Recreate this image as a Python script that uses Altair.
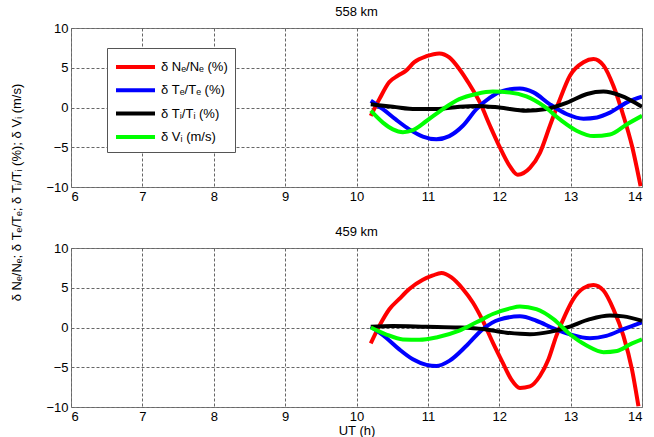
import altair as alt
import pandas as pd

FONT = "Liberation Sans"
SERIES = ["δ Nₑ/Nₑ (%)", "δ Tₑ/Tₑ (%)", "δ Tᵢ/Tᵢ (%)", "δ Vᵢ (m/s)"]
COLORS = ["#ff0000", "#0000ff", "#000000", "#00ff00"]
PANELS = ["558 km", "459 km"]

# ---- 558 km ----
top_ne_ut = [10.2, 10.32, 10.46, 10.58, 10.69, 10.81, 10.98, 11.16, 11.30, 11.44, 11.58, 11.73, 11.87, 12.0,
             12.15, 12.26, 12.43, 12.57, 12.71, 12.85, 12.99, 13.18, 13.32, 13.46, 13.60, 13.74, 13.86, 13.98]
top_ne_val = [-1.05, 1.05, 3.2, 4.0, 4.6, 5.7, 6.45, 6.8, 6.3, 4.85, 2.95, 0.6, -2.3, -4.85,
              -7.4, -8.45, -7.6, -5.7, -2.3, 1.05, 4.0, 5.7, 6.1, 5.3, 2.7, -1.05, -4.85, -9.9]
top_te_ut = [10.2, 10.37, 10.55, 10.74, 10.93, 11.12, 11.30, 11.49, 11.68, 11.87, 12.05, 12.29, 12.48, 12.71,
             12.95, 13.18, 13.37, 13.55, 13.79, 14.0]
top_te_val = [0.85, -0.2, -1.5, -2.75, -3.65, -4.0, -3.6, -2.3, -0.2, 1.25, 2.1, 2.4, 1.9, 0.4,
              -0.85, -1.4, -1.25, -0.65, 0.65, 1.35]
top_ti_ut = [10.2, 10.51, 10.83, 11.12, 11.44, 11.68, 12.0, 12.38, 12.66, 12.95, 13.23, 13.46, 13.70, 14.0]
top_ti_val = [0.4, 0.1, -0.2, -0.2, 0.1, 0.2, 0.0, -0.4, -0.2, 0.6, 1.7, 2.0, 1.5, 0.1]
top_vi_ut = [10.2, 10.37, 10.51, 10.65, 10.79, 10.98, 11.21, 11.44, 11.68, 11.91, 12.15, 12.38, 12.62, 12.85,
             13.09, 13.32, 13.55, 13.79, 14.0]
top_vi_val = [-0.4, -1.9, -2.75, -3.1, -2.85, -1.7, -0.2, 1.05, 1.7, 2.0, 1.9, 1.4, 0.2, -1.5,
              -2.95, -3.6, -3.4, -2.1, -1.05]

# ---- 459 km ----
bot_ne_ut = [10.2, 10.32, 10.46, 10.6, 10.74, 10.93, 11.07, 11.19, 11.33, 11.49, 11.63, 11.77, 11.91, 12.05,
             12.17, 12.29, 12.43, 12.57, 12.69, 12.80, 12.92, 13.04, 13.18, 13.32, 13.46, 13.60, 13.74, 13.86, 13.95]
bot_ne_val = [-2.0, 0.2, 2.3, 3.6, 4.85, 6.0, 6.55, 6.85, 6.3, 4.85, 3.15, 0.85, -1.9, -4.45,
              -6.55, -7.6, -7.4, -6.1, -4.0, -1.05, 1.5, 3.6, 4.95, 5.35, 4.65, 2.3, -1.05, -5.3, -9.9]
bot_te_ut = [10.2, 10.41, 10.6, 10.79, 10.98, 11.12, 11.30, 11.54, 11.77, 12.0, 12.29, 12.52, 12.76, 12.99,
             13.27, 13.5, 13.74, 14.0]
bot_te_val = [0.1, -1.25, -2.75, -4.0, -4.7, -4.85, -4.2, -2.3, -0.2, 1.0, 1.4, 0.85, -0.1, -0.85,
              -1.35, -1.05, -0.2, 0.65]
bot_ti_ut = [10.2, 10.51, 10.98, 11.44, 11.77, 12.1, 12.43, 12.71, 12.95, 13.27, 13.55, 13.74, 14.0]
bot_ti_val = [0.1, 0.2, 0.1, 0.0, -0.2, -0.65, -0.85, -0.55, 0.0, 1.05, 1.5, 1.4, 0.85]
bot_vi_ut = [10.2, 10.41, 10.65, 10.88, 11.12, 11.44, 11.68, 11.91, 12.15, 12.29, 12.52, 12.76, 12.99, 13.23,
             13.46, 13.65, 13.84, 14.0]
bot_vi_val = [0.0, -0.85, -1.5, -1.55, -1.25, -0.4, 0.65, 1.7, 2.4, 2.65, 2.3, 1.05, -0.85, -2.3,
              -3.1, -2.95, -2.1, -1.5]

x_ticks = [6, 7, 8, 9, 10, 11, 12, 13, 14]
y_ticks = [-10, -5, 0, 5, 10]

rows = []
def add(panel, si, uts, vals):
    for u, v in zip(uts, vals):
        rows.append({"panel": panel, "series": SERIES[si], "ut": u, "val": v})

add(PANELS[0], 0, top_ne_ut, top_ne_val)
add(PANELS[0], 1, top_te_ut, top_te_val)
add(PANELS[0], 2, top_ti_ut, top_ti_val)
add(PANELS[0], 3, top_vi_ut, top_vi_val)
add(PANELS[1], 0, bot_ne_ut, bot_ne_val)
add(PANELS[1], 1, bot_te_ut, bot_te_val)
add(PANELS[1], 2, bot_ti_ut, bot_ti_val)
add(PANELS[1], 3, bot_vi_ut, bot_vi_val)
df = pd.DataFrame(rows)

color_scale = alt.Scale(domain=SERIES, range=COLORS)

def panel_chart(name, top):
    d = df[df["panel"] == name]
    common = dict(grid=True, gridDash=[3, 2], gridColor="#666", gridOpacity=1, gridWidth=1,
                  domain=False, ticks=False, labelFont=FONT, labelFontSize=13, labelColor="black",
                  labelPadding=3)
    if top:
        legend = alt.Legend(title=None, orient="none", legendX=36, legendY=20,
                            symbolType="M-1.95,0L1.95,0", symbolSize=400, symbolStrokeWidth=4,
                            symbolOffset=9.5, labelOffset=13.5, labelFontSize=13, labelFont=FONT,
                            rowPadding=3.3, padding=7, fillColor="white", strokeColor="#555",
                            labelLimit=300, labelColor="black")
        yaxis = alt.Axis(values=y_ticks, title="δ Nₑ/Nₑ; δ Tₑ/Tₑ; δ Tᵢ/Tᵢ (%); δ Vᵢ (m/s)",
                         titleX=-48, titleY=164, titleAngle=-90, titleAlign="center",
                         titleBaseline="bottom", titleFontSize=13, titleFontWeight="normal",
                         titleFont=FONT, titleColor="black", **common)
        xaxis = alt.Axis(values=x_ticks, title=None, **common)
    else:
        legend = None
        yaxis = alt.Axis(values=y_ticks, title=None, **common)
        xaxis = alt.Axis(values=x_ticks, title="UT (h)", titleFontSize=13, titleFontWeight="normal",
                         titleFont=FONT, titleColor="black", titlePadding=1, **common)
    return alt.Chart(d).mark_line(strokeWidth=4, interpolate="monotone", clip=True).encode(
        x=alt.X("ut:Q", scale=alt.Scale(domain=[6, 14], nice=False), axis=xaxis),
        y=alt.Y("val:Q", scale=alt.Scale(domain=[-10, 10], nice=False), axis=yaxis),
        color=alt.Color("series:N", scale=color_scale, legend=legend, sort=SERIES),
        detail="series:N",
    ).properties(
        width=571, height=159,
        title=alt.TitleParams(name, fontSize=13, fontWeight="normal", font=FONT, color="black", offset=3),
    )

chart = alt.vconcat(panel_chart(PANELS[0], True), panel_chart(PANELS[1], False),
                    spacing=61, bounds="flush").resolve_legend(color="independent").properties(
    padding={"left": 9, "top": 5, "right": 0, "bottom": 0}, background="white"
).configure_view(stroke="#808080", strokeWidth=1)

chart.save("out.html", embed_options={"renderer": "svg", "actions": False})
